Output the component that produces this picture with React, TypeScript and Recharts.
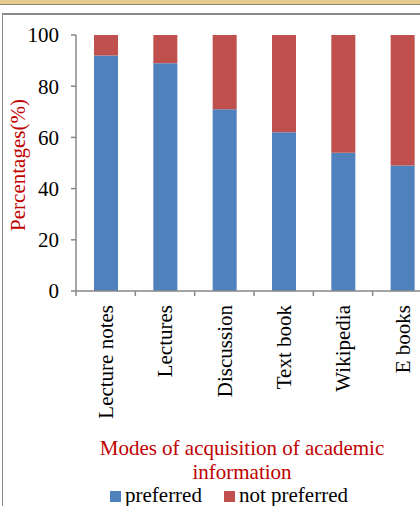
import React from 'react';
import { BarChart, Bar, XAxis, YAxis } from 'recharts';

const categories = ['Lecture notes', 'Lectures', 'Discussion', 'Text book', 'Wikipedia', 'E books'];
const preferred = [92, 89, 71, 62, 54, 49];
const notPreferred = [8, 11, 29, 38, 46, 51];
const yTicks = [0, 20, 40, 60, 80, 100];
const seriesNames = ['preferred', 'not preferred'];
const seriesColors = ['#4F81BD', '#C0504D'];

const data = categories.map((c, i) => ({
  name: c,
  preferred: preferred[i],
  notPreferred: notPreferred[i],
}));

const FONT = "'Liberation Serif', 'Times New Roman', Times, serif";
const AXIS = '#878787';
const RED = '#C00000';

const chartW = 460;
const chartH = 420;
const margin = { top: 35, right: 28, left: 16, bottom: 0 };
const yAxisW = 60;
const band = (chartW - margin.left - margin.right - yAxisW) / categories.length;

// label centred in the band, tick mark on the band's left edge
const CategoryTick = ({ x, y, payload }: any) => (
  <g>
    <line x1={x - band / 2} x2={x - band / 2} y1={y - 8} y2={y - 3} stroke={AXIS} strokeWidth={1.5} />
    <text
      x={x}
      y={y + 6}
      transform={`rotate(-90, ${x}, ${y + 6})`}
      textAnchor="end"
      dy="0.35em"
      fontSize={21}
      fontFamily={FONT}
      fill="#000"
    >
      {payload.value}
    </text>
  </g>
);

const YLabel = () => (
  <text
    x={18}
    y={165}
    transform="rotate(-90, 18, 165)"
    textAnchor="middle"
    dominantBaseline="central"
    fontSize={21}
    fontFamily={FONT}
    fill={RED}
  >
    Percentages(%)
  </text>
);

const textStyle: React.CSSProperties = { fontFamily: FONT, fontSize: 21 };

export default function App() {
  return (
    <div
      style={{
        position: 'fixed',
        left: 0,
        top: 0,
        width: 420,
        height: 506,
        overflow: 'hidden',
        background: '#fff',
      }}
    >
      {/* top strip + frame */}
      <div style={{ position: 'absolute', left: 0, top: 0, width: 420, height: 4, background: '#E8CB8E' }} />
      <div style={{ position: 'absolute', left: 0, top: 4, width: 420, height: 1, background: '#8C8470' }} />
      <div style={{ position: 'absolute', left: 2, top: 13, width: 418, height: 1.5, background: '#8A8A8A' }} />
      <div style={{ position: 'absolute', left: 1.5, top: 13, width: 1.5, height: 493, background: '#8A8A8A' }} />

      <div style={{ position: 'absolute', left: 0, top: 0 }}>
        <BarChart width={chartW} height={chartH} data={data} margin={margin} barSize={24}>
          <XAxis
            dataKey="name"
            interval={0}
            height={chartH - margin.top - 256}
            axisLine={{ stroke: AXIS, strokeWidth: 1.5 }}
            tickLine={false}
            tick={<CategoryTick />}
          />
          <YAxis
            width={yAxisW}
            domain={[0, 100]}
            ticks={yTicks}
            interval={0}
            axisLine={{ stroke: AXIS, strokeWidth: 1.5 }}
            tickLine={{ stroke: AXIS, strokeWidth: 1.5 }}
            tickSize={5}
            tickMargin={12}
            tick={{ fontSize: 21, fontFamily: FONT, fill: '#000' }}
            label={<YLabel />}
          />
          <Bar dataKey="preferred" stackId="a" fill={seriesColors[0]} isAnimationActive={false} />
          <Bar dataKey="notPreferred" stackId="a" fill={seriesColors[1]} isAnimationActive={false} />
        </BarChart>
      </div>

      {/* x axis title */}
      <div
        style={{
          ...textStyle,
          position: 'absolute',
          left: 62,
          top: 436,
          width: 360,
          textAlign: 'center',
          color: RED,
          lineHeight: '24px',
        }}
      >
        Modes of acquisition of academic
        <br />
        information
      </div>

      {/* legend */}
      <div
        style={{
          ...textStyle,
          position: 'absolute',
          left: 110,
          top: 484,
          display: 'flex',
          alignItems: 'center',
          lineHeight: '22px',
          color: '#000',
        }}
      >
        {seriesNames.map((n, i) => (
          <div key={n} style={{ display: 'flex', alignItems: 'center', marginRight: 22 }}>
            <span style={{ width: 11, height: 11, background: seriesColors[i], marginRight: 4, marginTop: 2 }} />
            <span>{n}</span>
          </div>
        ))}
      </div>
    </div>
  );
}
